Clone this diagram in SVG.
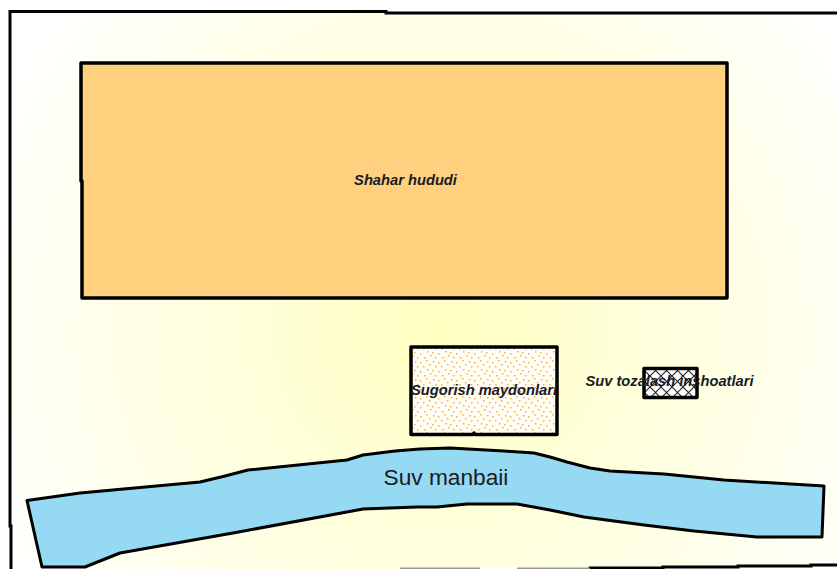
<svg xmlns="http://www.w3.org/2000/svg" width="837" height="569" viewBox="0 0 837 569">
<style>
.o{stroke:#000;stroke-width:3.5;stroke-linejoin:round;stroke-linecap:square}
.r{stroke:#000;stroke-width:3;stroke-linejoin:round}
.f{fill:none;stroke:#000;stroke-width:3;stroke-linecap:square}
.l{font-family:"Liberation Sans",Arial,sans-serif;font-size:14.7px;font-weight:bold;font-style:italic;fill:#1a1a24}
.d{fill:#f5b03c}
</style>
<defs>
<radialGradient id="bg" gradientUnits="userSpaceOnUse" cx="440" cy="330" r="500">
<stop offset="0" stop-color="#ffffc0"/><stop offset="0.35" stop-color="#ffffd8"/><stop offset="0.7" stop-color="#ffffec"/><stop offset="1" stop-color="#ffffff"/>
</radialGradient>
<pattern id="dots" patternUnits="userSpaceOnUse" width="18" height="18">
<rect width="18" height="18" fill="#fffef6"/>
<rect class="d" x="1" y="1" width="1.500" height="1.500"/><rect class="d" x="6" y="2" width="1.500" height="1.500"/><rect class="d" x="12" y="0" width="1.500" height="1.500"/><rect class="d" x="15" y="4" width="1.500" height="1.500"/>
<rect class="d" x="3" y="6" width="1.500" height="1.500"/><rect class="d" x="9" y="6" width="1.500" height="1.500"/><rect class="d" x="13" y="9" width="1.500" height="1.500"/><rect class="d" x="0" y="10" width="1.500" height="1.500"/>
<rect class="d" x="6" y="11" width="1.500" height="1.500"/><rect class="d" x="16" y="13" width="1.500" height="1.500"/><rect class="d" x="3" y="15" width="1.500" height="1.500"/><rect class="d" x="10" y="15" width="1.500" height="1.500"/>
</pattern>
<pattern id="hatch" patternUnits="userSpaceOnUse" width="11" height="11" x="1" y="2">
<rect width="11" height="11" fill="#fff"/>
<path d="M-1 -1L12 12M-1 12L12 -1" stroke="#222" stroke-width="1.100" fill="none"/>
</pattern>
</defs>
<g id="frame">
<path d="M10 569V12H386V13H837V566L810 566V567H400V569H10Z" fill="url(#bg)" stroke="none"/>
<path class="f" d="M10 526V11.500H386"/>
<path class="f" d="M11 526V569"/>
<path class="f" d="M386 13H837"/>
<path class="f" d="M590 568H663M663 567H738M738 566H811M811 565H837"/>
<path d="M400 568.300H480M517 568.300H590" fill="none" stroke="#999" stroke-width="1.500"/>
</g>
<g id="city">
<path d="M81 63H727V298H82V181H81Z" fill="#ffd17f" class="o"/>
<text class="l" x="405.500" y="185" text-anchor="middle">Shahar hududi</text>
</g>
<g id="fields">
<path d="M411 347H557V434.500H475L474 433L473 434.500H411Z" fill="url(#dots)" class="o"/>
<text class="l" x="484" y="395" text-anchor="middle">Sugorish maydonlari</text>
</g>
<g id="plant">
<rect x="644" y="368.500" width="53" height="29" fill="url(#hatch)" class="o"/>
<text class="l" x="669.500" y="386" text-anchor="middle">Suv tozalash inshoatlari</text>
</g>
<g id="river">
<path d="M27 500.500L80 493L200 482L225 476L248 470L347 460L363 455L395 451L420 449L450 448L504 451L534 453L550 457L567 462L590 468L610 471L664 474L724 480L824 486L822 537L794 537L757 537L694 531L644 525L584 517L550 510L517 504L467 504L437 507L417 507L363 509L233 533L120 553L85 567L42 567Z" fill="#95d9f2" class="r"/>
<text x="446" y="485" text-anchor="middle" font-family="Liberation Sans,Arial,sans-serif" font-size="22.700" fill="#1a1a24">Suv manbaii</text>
</g>
</svg>
